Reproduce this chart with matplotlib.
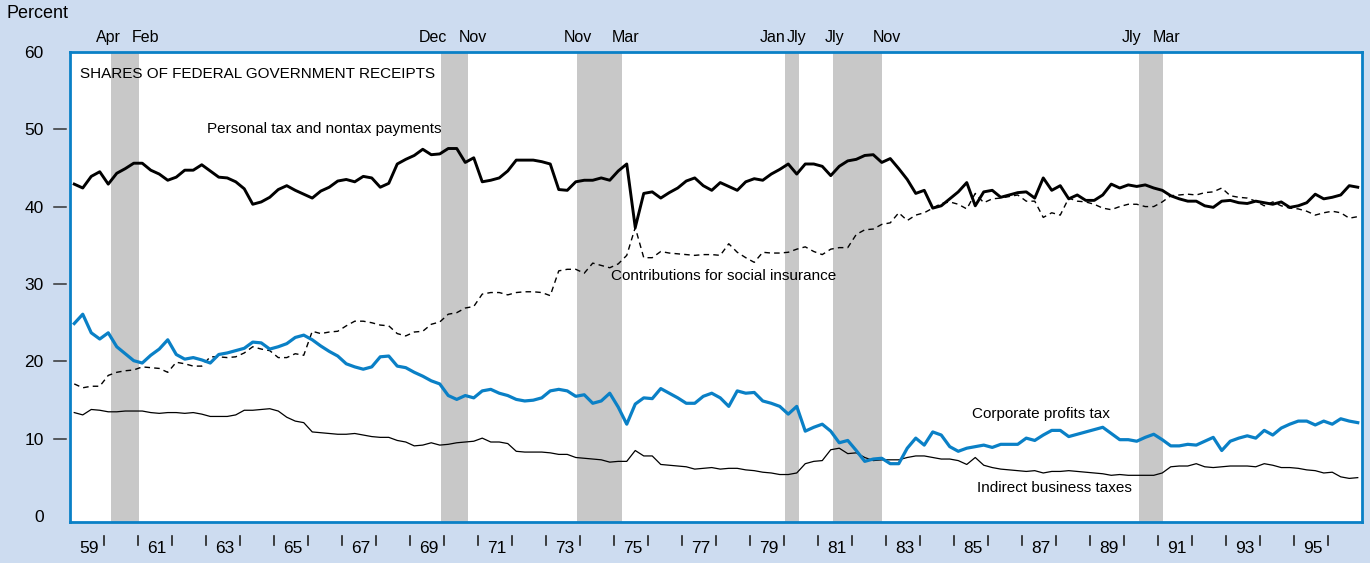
import matplotlib
matplotlib.use('Agg')
import matplotlib.pyplot as plt
import matplotlib.transforms as mtransforms
import pandas as pd

plt.rcParams['font.family'] = ['Liberation Sans', 'DejaVu Sans']

# Quarterly shares of federal government receipts, 1959Q1 - 1996Q4 (percent)
quarters = pd.period_range('1959Q1', '1996Q4', freq='Q')

personal = [42.9, 42.4, 43.9, 44.5, 42.9, 44.3, 44.9, 45.6, 45.6, 44.7,
            44.2, 43.4, 43.8, 44.7, 44.7, 45.4, 44.6, 43.8, 43.7, 43.2,
            42.3, 40.3, 40.6, 41.2, 42.2, 42.7, 42.1,
            41.6, 41.1, 42.0, 42.5, 43.3, 43.5, 43.2, 43.9, 43.7, 42.5,
            43.0, 45.5, 46.1, 46.6, 47.4, 46.7, 46.8, 47.5, 47.5, 45.7,
            46.3, 43.2, 43.4, 43.7, 44.6, 46.0, 46.0,
            46.0, 45.8, 45.5, 42.2, 42.1, 43.2, 43.4, 43.4, 43.7, 43.4,
            44.6, 45.5, 37.3, 41.7, 41.9, 41.1, 41.8, 42.4, 43.3, 43.7,
            42.7, 42.1, 43.1, 42.6, 42.1, 43.2, 43.6, 43.4,
            44.2, 44.8, 45.5, 44.2, 45.5, 45.5, 45.2, 44.0, 45.2, 45.9,
            46.1, 46.6, 46.7, 45.7, 46.2, 44.9, 43.5, 41.7, 42.1, 39.8,
            40.1, 41.0, 41.9, 43.1, 40.1, 41.9, 42.1,
            41.2, 41.5, 41.8, 41.9, 41.1, 43.7, 42.1, 42.7, 41.0, 41.5,
            40.8, 40.8, 41.5, 42.9, 42.4, 42.8, 42.6, 42.8, 42.4, 42.1,
            41.4, 41.0, 40.7, 40.7, 40.1, 39.9, 40.7,
            40.8, 40.5, 40.4, 40.7, 40.5, 40.3, 40.6, 39.9, 40.1, 40.5,
            41.6, 41.0, 41.2, 41.5, 42.7, 42.5]

social = [17.1, 16.6, 16.8, 16.8, 18.2, 18.6, 18.8, 18.9, 19.3, 19.2,
          19.1, 18.6, 19.9, 19.7, 19.4, 19.4, 20.6, 20.6, 20.5, 20.6,
          21.1, 21.9, 21.6, 21.4, 20.5, 20.5, 21.0,
          20.8, 23.9, 23.6, 23.8, 23.9, 24.6, 25.2, 25.2, 25.0, 24.7,
          24.6, 23.6, 23.3, 23.8, 23.9, 24.8, 25.1, 26.1, 26.3, 26.9,
          27.1, 28.7, 28.9, 28.9, 28.6, 28.9, 29.0,
          29.0, 28.9, 28.5, 31.7, 31.9, 31.9, 31.4, 32.7, 32.4, 32.1,
          32.6, 33.7, 37.3, 33.4, 33.4, 34.2, 34.0, 33.9, 33.8, 33.7,
          33.8, 33.8, 33.7, 35.2, 34.1, 33.4, 32.8, 34.1,
          34.0, 34.0, 34.1, 34.5, 34.8, 34.2, 33.8, 34.5, 34.7, 34.7,
          36.4, 37.0, 37.1, 37.7, 37.9, 39.2, 38.2, 38.9, 39.2, 39.8,
          40.4, 40.6, 40.3, 39.7, 41.7, 40.5, 41.0,
          41.1, 41.3, 41.5, 40.7, 40.7, 38.6, 39.2, 38.9, 41.1, 40.7,
          40.6, 40.3, 39.8, 39.6, 40.0, 40.3, 40.3, 40.0, 40.0, 40.6,
          41.4, 41.5, 41.6, 41.5, 41.8, 41.9, 42.4,
          41.4, 41.2, 41.1, 40.7, 40.1, 40.6, 40.1, 39.8, 39.7, 39.4,
          38.9, 39.2, 39.4, 39.2, 38.5, 38.7]

corporate = [24.9, 26.1, 23.7, 22.9, 23.7, 21.9, 21.0, 20.1, 19.8, 20.8,
             21.6, 22.8, 20.9, 20.3, 20.5, 20.2, 19.8, 20.9, 21.1, 21.4,
             21.7, 22.5, 22.4, 21.6, 21.9, 22.3, 23.1,
             23.4, 22.8, 22.0, 21.3, 20.7, 19.7, 19.3, 19.0, 19.3, 20.6,
             20.7, 19.4, 19.2, 18.6, 18.1, 17.5, 17.1, 15.6, 15.1, 15.6,
             15.3, 16.2, 16.4, 15.9, 15.6, 15.1, 14.9,
             15.0, 15.3, 16.2, 16.4, 16.2, 15.5, 15.7, 14.6, 14.9, 15.9,
             14.1, 11.9, 14.5, 15.3, 15.2, 16.5, 15.9, 15.3, 14.6, 14.6,
             15.5, 15.9, 15.3, 14.2, 16.2, 15.9, 16.0, 14.9,
             14.6, 14.2, 13.2, 14.2, 11.0, 11.5, 11.9, 11.0, 9.5, 9.8,
             8.5, 7.1, 7.4, 7.5, 6.8, 6.8,
             8.8, 10.1, 9.2, 10.9, 10.5, 9.0, 8.4, 8.8, 9.0, 9.2,
             8.9, 9.3, 9.3, 9.3, 10.1, 9.8, 10.5, 11.1, 11.1, 10.3,
             10.6, 10.9, 11.2, 11.5, 10.7, 9.9, 9.9, 9.7, 10.2, 10.6,
             9.9, 9.1, 9.1, 9.3, 9.2, 9.7, 10.2, 8.5, 9.7, 10.1,
             10.4, 10.1, 11.1, 10.5, 11.4, 11.9, 12.3, 12.3, 11.8, 12.3,
             11.9, 12.6, 12.3, 12.1]

indirect = [13.4, 13.1, 13.8, 13.7, 13.5, 13.5, 13.6, 13.6, 13.6, 13.4,
            13.3, 13.4, 13.4, 13.3, 13.4, 13.2, 12.9, 12.9, 12.9, 13.1,
            13.7, 13.7, 13.8, 13.9, 13.6, 12.8, 12.3,
            12.1, 10.9, 10.8, 10.7, 10.6, 10.6, 10.7, 10.5, 10.3, 10.2,
            10.2, 9.8, 9.6, 9.1, 9.2, 9.5, 9.2, 9.3, 9.5, 9.6,
            9.7, 10.1, 9.6, 9.6, 9.4, 8.4, 8.3,
            8.3, 8.3, 8.2, 8.0, 8.0, 7.6, 7.5, 7.4, 7.3, 7.0,
            7.1, 7.1, 8.5, 7.8, 7.8, 6.7, 6.6, 6.5, 6.4, 6.1,
            6.2, 6.3, 6.1, 6.2, 6.2, 6.0, 5.9, 5.7,
            5.6, 5.4, 5.4, 5.6, 6.8, 7.1, 7.2, 8.6, 8.8, 8.1,
            8.2, 7.6, 7.2, 7.3, 7.3, 7.3,
            7.6, 7.8, 7.8, 7.6, 7.4, 7.4, 7.2, 6.7, 7.6, 6.6,
            6.3, 6.1, 6.0, 5.9, 5.8, 5.9, 5.6, 5.8, 5.8, 5.9,
            5.8, 5.7, 5.6, 5.5, 5.3, 5.4, 5.3, 5.3, 5.3, 5.3,
            5.6, 6.4, 6.5, 6.5, 6.8, 6.4, 6.3, 6.4, 6.5, 6.5,
            6.5, 6.4, 6.8, 6.6, 6.3, 6.3, 6.2, 6.0, 5.9, 5.6,
            5.7, 5.1, 4.9, 5.0]

# Recessions (decimal years) and their month labels
rec_start = [1960.21, 1969.91, 1973.90, 1980.02, 1981.44, 1990.45]
rec_end = [1961.04, 1970.71, 1975.23, 1980.43, 1982.88, 1991.16]
rec_start_lbl = ['Apr', 'Dec', 'Nov', 'Jan', 'Jly', 'Jly']
rec_end_lbl = ['Feb', 'Nov', 'Mar', 'Jly', 'Nov', 'Mar']
# where the month labels sit (label centres, decimal years)
start_lbl_at = [1960.12, 1969.67, 1973.93, 1979.66, 1981.49, 1990.22]
end_lbl_at = [1961.22, 1970.85, 1975.35, 1980.37, 1983.03, 1991.25]

BG = '#cddcf0'
BLUE = '#0a80c6'
GRAY = '#c8c8c8'


def main():
    x = quarters.year + (quarters.quarter - 0.5) / 4

    fig = plt.figure(figsize=(13.7, 5.63), dpi=100, facecolor=BG)
    ax = fig.add_axes([70 / 1370, 41 / 563, 1292 / 1370, 470.3 / 563])
    ax.set_facecolor('white')
    for s in ax.spines.values():
        s.set_color(BLUE)
        s.set_linewidth(2.0)

    # Recession shading
    for a, b in zip(rec_start, rec_end):
        ax.axvspan(a, b, color=GRAY, lw=0, zorder=0)

    ax.plot(x, indirect, color='black', lw=0.9, zorder=3)
    ax.plot(x, social, color='black', lw=1.0, dashes=(4, 3), zorder=3)
    ax.plot(x, corporate, color=BLUE, lw=2.3, zorder=4)
    ax.plot(x, personal, color='black', lw=2.1, zorder=5)

    ax.set_xlim(1959, 1997)
    ax.set_ylim(-0.73, 59.87)
    ax.set_xticks([])
    ax.set_yticks(range(0, 61, 10))
    ax.tick_params(axis='y', length=0, pad=19, labelsize=12.5)

    ybl = mtransforms.blended_transform_factory(ax.transAxes, ax.transData)
    for v in range(10, 51, 10):
        ax.plot([-0.0124, -0.0031], [v, v], transform=ybl, color='#333333',
                lw=1.1, clip_on=False)

    xbl = mtransforms.blended_transform_factory(ax.transData, ax.transAxes)
    for yr in range(1960, 1997):
        ax.plot([yr, yr], [-0.029, -0.049], transform=xbl, color='#222222',
                lw=1.2, clip_on=False)
    for yr in range(1959, 1996, 2):
        ax.text(yr + 0.55, -0.056, '%02d' % (yr % 100), transform=xbl,
                ha='center', va='center', fontsize=12.5)

    # Month labels for recessions
    for xa, la in zip(start_lbl_at, rec_start_lbl):
        ax.text(xa, 1.030, la, transform=xbl, ha='center', va='center',
                fontsize=11.5)
    for xb, lb in zip(end_lbl_at, rec_end_lbl):
        ax.text(xb, 1.030, lb, transform=xbl, ha='center', va='center',
                fontsize=11.5)

    # Series labels
    ax.text(0.0077, 0.953, 'SHARES OF FEDERAL GOVERNMENT RECEIPTS',
            transform=ax.transAxes, ha='left', va='center', fontsize=11)
    ax.text(1963.02, 50.0, 'Personal tax and nontax payments', ha='left',
            va='center', fontsize=11, zorder=6)
    ax.text(1974.9, 31.1, 'Contributions for social insurance', ha='left',
            va='center', fontsize=11, zorder=6)
    ax.text(1985.54, 13.25, 'Corporate profits tax', ha='left',
            va='center', fontsize=11, zorder=6)
    ax.text(1985.69, 3.6, 'Indirect business taxes', ha='left',
            va='center', fontsize=11, zorder=6)

    fig.text(7 / 1370, 1 - 13.5 / 563, 'Percent', ha='left', va='center',
             fontsize=13)

    fig.savefig('out.png', dpi=100, facecolor=BG)


if __name__ == "__main__": main()
